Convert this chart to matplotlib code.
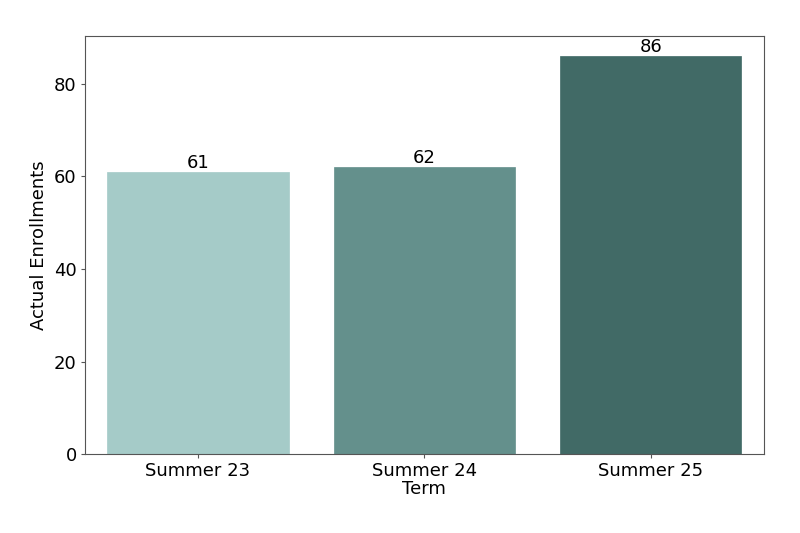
import matplotlib
matplotlib.use("Agg")
import matplotlib.pyplot as plt

terms = ["Summer 23", "Summer 24", "Summer 25"]
enrollments = [61, 62, 86]
colors = ["#a5cbc8", "#64908c", "#416a66"]

fig, ax = plt.subplots(figsize=(8, 5.33), dpi=100)
fig.subplots_adjust(left=0.106, right=0.955, top=0.932, bottom=0.148)

x = range(len(terms))
bars = ax.bar(x, enrollments, width=0.8, color=colors, edgecolor=colors, linewidth=0.5)
for xi, v in zip(x, enrollments):
    ax.text(xi, v, str(v), ha="center", va="bottom", fontsize=13)

ax.set_xticks(list(x))
ax.set_xticklabels(terms)
ax.set_xlim(-0.5, 2.5)
ax.set_ylim(0, 90.3)
ax.set_yticks([0, 20, 40, 60, 80])
ax.tick_params(labelsize=13, length=3, pad=2.8, color="#555555")
ax.set_xlabel("Term", fontsize=13, labelpad=0)
ax.set_ylabel("Actual Enrollments", fontsize=13, labelpad=4)
for s in ax.spines.values():
    s.set_color("#555555")

fig.savefig("out.png", dpi=100)
